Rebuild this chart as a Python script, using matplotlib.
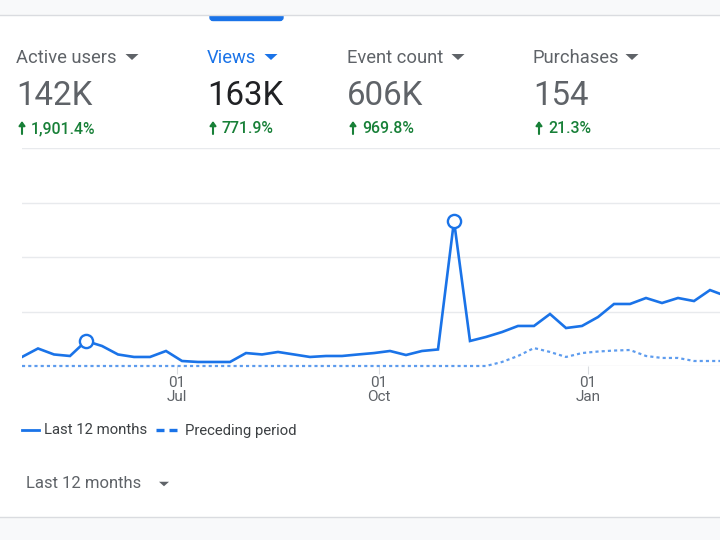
import matplotlib
matplotlib.use('Agg')
import matplotlib.pyplot as plt
from matplotlib.patches import FancyBboxPatch, Rectangle

plt.rcParams['font.family'] = ['Roboto', 'DejaVu Sans']

# ---- data (thousands of views per week) ----
views_current = [0.83, 1.61, 1.06, 0.92, 2.30, 1.84, 1.06, 0.83, 0.83, 1.38,
                 0.46, 0.37, 0.37, 0.37, 1.19, 1.06, 1.29, 1.06, 0.83, 0.92,
                 0.92, 1.06, 1.19, 1.38, 1.01, 1.38, 1.52, 13.33, 2.30, 2.67,
                 3.12, 3.68, 3.68, 4.78, 3.49, 3.68, 4.50, 5.70, 5.70, 6.25,
                 5.79, 6.25, 5.97, 6.98, 6.43, 6.07]
views_previous = [0] * 30 + [0.37, 0.92, 1.65, 1.29, 0.83, 1.19, 1.33, 1.42,
                             1.47, 0.92, 0.74, 0.74, 0.46, 0.46, 0.46, 0.46]
highlight_weeks = [4, 27]
tick_weeks = [9.69, 22.31, 35.38]
tick_labels = ['01\nJul', '01\nOct', '01\nJan']
y_grid = [0, 5, 10, 15, 20]

metric_names = ['Active users', 'Views', 'Event count', 'Purchases']
metric_values = ['142K', '163K', '606K', '154']
metric_changes = ['1,901.4%', '771.9%', '969.8%', '21.3%']
metric_x = [16, 207, 347, 533]
caret_x = [132, 271, 458, 632]

BLUE = '#1a73e8'
GREY = '#5f6368'
GREEN = '#188038'
W, H = 720, 540
WEEK_PX = 16.0

fig = plt.figure(figsize=(7.2, 5.4), dpi=100, facecolor='white')

# page furniture, in pixel coordinates
bg = fig.add_axes([0, 0, 1, 1])
bg.set_xlim(0, W)
bg.set_ylim(H, 0)
bg.axis('off')


def caret(ax, cx, cy, half, tall, color):
    ax.fill([cx - half, cx + half, cx], [cy - tall / 2, cy - tall / 2, cy + tall / 2],
            color=color, lw=0, zorder=3)


bg.add_patch(FancyBboxPatch((210, 6), 73, 14.5, boxstyle='round,pad=0,rounding_size=3',
                            mutation_aspect=1, fc=BLUE, ec=BLUE, lw=1, zorder=1))
bg.add_patch(Rectangle((0, 0), W, 15, fc='#f8f9fa', ec='none', zorder=2))
bg.add_patch(Rectangle((0, 516.5), W, 24, fc='#f8f9fa', ec='none', zorder=2))
bg.plot([0, W], [15.2, 15.2], color='#dadce0', lw=1, zorder=3)
bg.plot([0, W], [516.5, 516.5], color='#dadce0', lw=1, zorder=3)

# metric cards
for i, name in enumerate(metric_names):
    x = metric_x[i]
    is_active = name == 'Views'
    bg.text(x, 57.8, name, fontsize=13.2, color=BLUE if is_active else GREY,
            va='center', ha='left')
    caret(bg, caret_x[i], 57, 6.5, 6, BLUE if is_active else GREY)
    bg.text(x, 96, metric_values[i], fontsize=23.8, color='#202124' if is_active else GREY,
            va='center', ha='left')
    bg.annotate('', xy=(x + 6, 121), xytext=(x + 6, 134),
                arrowprops=dict(arrowstyle='-|>,head_width=0.18,head_length=0.25',
                                color=GREEN, lw=1.5, shrinkA=0, shrinkB=0))
    bg.text(x + 15, 128.8, metric_changes[i], fontsize=11.4, color=GREEN,
            va='center', ha='left', fontweight='medium')

# legend and date range picker
bg.plot([22, 39], [430, 430], color=BLUE, lw=2)
bg.text(44, 430.5, 'Last 12 months', fontsize=10.7, color='#3c4043', va='center')
bg.plot([156, 178], [430, 430], color=BLUE, lw=2.4, dashes=(2.4, 1.5), dash_capstyle='butt')
bg.text(185, 430.5, 'Preceding period', fontsize=10.7, color='#3c4043', va='center')
bg.text(26, 483.5, 'Last 12 months', fontsize=12, color=GREY, va='center')
caret(bg, 164, 484, 5, 4.5, GREY)

# chart, pixel box x 22..720, y 149..366
ax = fig.add_axes([22 / W, (H - 366) / H, (W - 22) / W, 217.6 / H])
ax.patch.set_alpha(0)
weeks = range(len(views_current))
ax.plot(weeks, views_previous, color=BLUE, lw=1.6, ls=(0, (1.4, 1.4)), alpha=0.7,
        zorder=3, clip_on=False, dash_capstyle='butt')
ax.plot(weeks, views_current, color=BLUE, lw=1.9, zorder=4, solid_joinstyle='miter')
ax.plot(highlight_weeks, [views_current[w] for w in highlight_weeks], ls='none',
        marker='o', ms=9.5, mfc='white', mec=BLUE, mew=1.7, zorder=5)
ax.set_xlim(0, (W - 22) / WEEK_PX)
ax.set_ylim(0, 20)
ax.set_yticks(y_grid)
ax.set_yticklabels([])
ax.yaxis.grid(True, color='#e8eaed', lw=1)
ax.set_axisbelow(True)
ax.tick_params(axis='y', length=0)
ax.set_xticks(tick_weeks)
ax.set_xticklabels(tick_labels, fontsize=11, color=GREY, linespacing=1.0)
ax.tick_params(axis='x', length=6, width=0.8, color='#dadce0', pad=1.5)
for side in ax.spines.values():
    side.set_visible(False)

fig.savefig('out.png', dpi=100)
